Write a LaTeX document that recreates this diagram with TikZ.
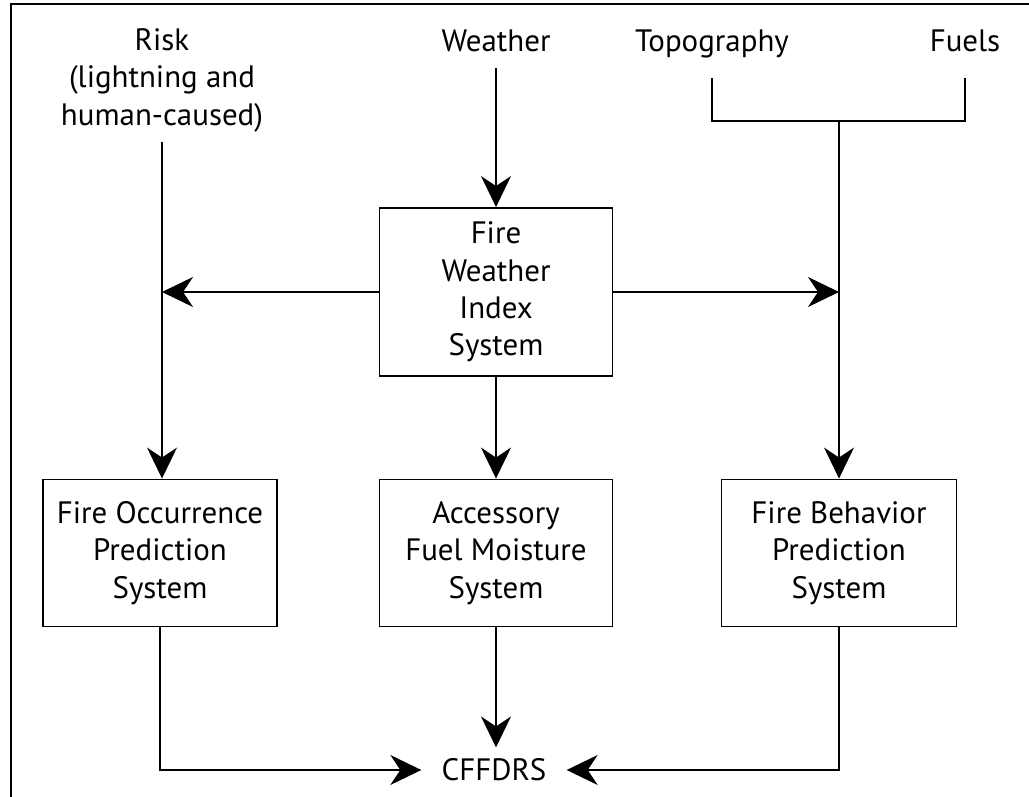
\documentclass[tikz,border=0pt]{standalone}
\usepackage{fontspec}
\setmainfont{PT Sans}
\usetikzlibrary{positioning}
\usetikzlibrary{arrows.meta}
\tikzset{
  box/.style={draw, line width=1.1pt, align=center, inner sep=0pt},
  lbl/.style={align=center, inner sep=0.2cm, text depth=0.12cm},
  link/.style={line width=0.9pt},
  arr/.style={link, -{Stealth[length=0.62cm, width=0.6cm, inset=0.2cm]}}
}

\begin{document}
\begin{tikzpicture}[x=0.02cm, y=-0.02cm, font=\fontsize{17.6}{21.3}\selectfont]
\useasboundingbox (0,0) rectangle (1029,797);
\draw[line width=1.2pt] (11,797) |- (1029,4);
% Inputs
\node[lbl] (risk) at (162,80) {Risk\\(lightning and\\human-caused)};
\node[lbl, anchor=base] (weather) at (496,52) {Weather};
\node[lbl, anchor=base] (topo) at (712,52) {Topography};
\node[lbl, anchor=base] (fuels) at (965,52) {Fuels};
% Systems
\node[box, minimum width=4.66cm, minimum height=3.36cm] (fwi) at (496,292) {Fire\\Weather\\Index\\System};
\node[box, minimum width=4.68cm, minimum height=2.94cm] (fops) at (160,553) {Fire Occurrence\\Prediction\\System};
\node[box, minimum width=4.66cm, minimum height=2.94cm] (afms) at (496,553) {Accessory\\Fuel Moisture\\System};
\node[box, minimum width=4.70cm, minimum height=2.94cm] (fbps) at (839,553) {Fire Behavior\\Prediction\\System};
\node[inner xsep=0.4cm, inner ysep=0.22cm] (cffdrs) at (494,770) {CFFDRS};
% Connectors
\coordinate (join) at (839,121);
\draw[link, shorten <=0.2cm, shorten >=0.2cm] (topo.south) |- (join) -| (fuels.south);
\draw[arr] (join) -- (fbps.north);
\draw[arr] (weather.south) -- (fwi.north);
\draw[arr] (risk.south) -- (risk.south |- fops.north);
\draw[arr] (fwi.west) -- (fwi.west -| risk.south);
\draw[arr] (fwi.east) -- (fwi.east -| fbps.north);
\draw[arr] (fwi.south) -- (afms.north);
\draw[arr] (afms.south) -- (afms.south |- cffdrs.north);
\draw[arr] (fops.south) |- (cffdrs.west);
\draw[arr] (fbps.south) |- (cffdrs.east);
\end{tikzpicture}
\end{document}
